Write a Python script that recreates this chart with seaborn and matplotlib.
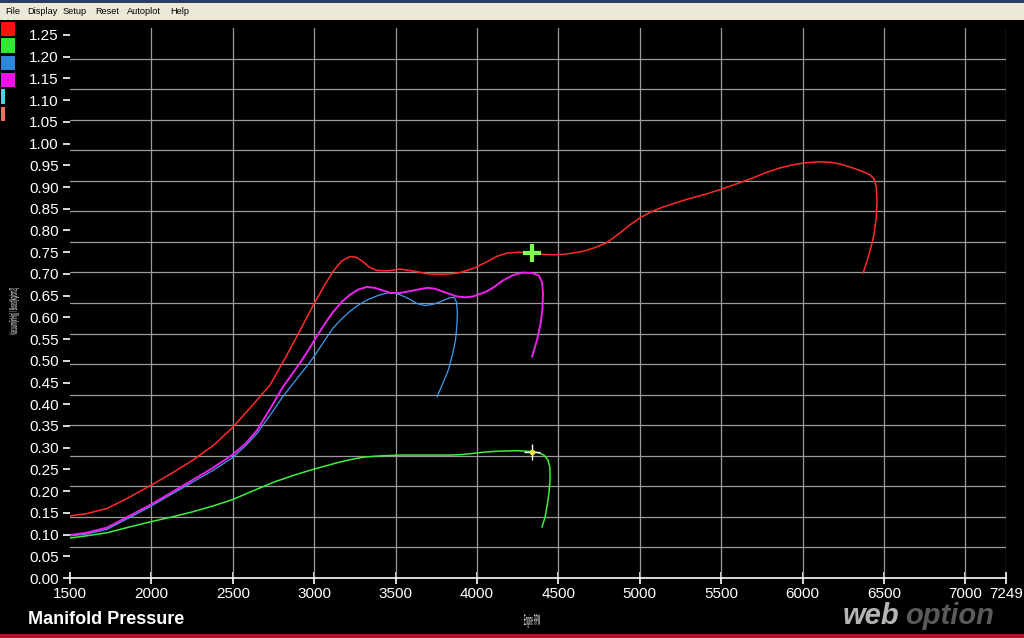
"""
Manifold pressure vs engine RPM - dyno log style chart
"""
import numpy as np
import pandas as pd
import matplotlib
matplotlib.use('Agg')
import matplotlib.pyplot as plt
import seaborn as sns
from matplotlib.patches import Rectangle, PathPatch
from matplotlib.textpath import TextPath
from matplotlib.font_manager import FontProperties
from matplotlib.transforms import Affine2D

# Data (rpm, kg/cm2)
red_rpm = [1500, 1600, 1727, 1850, 1991, 2120, 2250, 2380, 2495, 2610, 2728, 2820, 2913,
           2990, 3060, 3120, 3170, 3220, 3260, 3300, 3340, 3386, 3450, 3527, 3600, 3700,
           3773, 3840, 3896, 3980, 4061, 4120, 4184, 4260, 4338, 4400, 4467, 4530, 4590,
           4650, 4720, 4798, 4880, 4940, 5001, 5070, 5143, 5300, 5400, 5493, 5600, 5695,
           5780, 5861, 5940, 6020, 6107, 6170, 6230, 6290, 6360, 6414, 6440, 6452, 6457,
           6452, 6440, 6426, 6400, 6371]
red_val = [0.143, 0.148, 0.160, 0.183, 0.212, 0.240, 0.270, 0.305, 0.345, 0.393, 0.444, 0.505,
           0.570, 0.625, 0.672, 0.708, 0.730, 0.740, 0.738, 0.728, 0.715, 0.708, 0.707, 0.711,
           0.707, 0.700, 0.699, 0.700, 0.703, 0.713, 0.728, 0.740, 0.748, 0.750, 0.748, 0.745,
           0.744, 0.745, 0.748, 0.752, 0.760, 0.772, 0.795, 0.813, 0.829, 0.843, 0.854, 0.873,
           0.883, 0.894, 0.908, 0.921, 0.934, 0.944, 0.951, 0.956, 0.958, 0.957, 0.953, 0.946,
           0.937, 0.928, 0.918, 0.900, 0.870, 0.830, 0.795, 0.770, 0.735, 0.702]

green_rpm = [1500, 1600, 1727, 1850, 1991, 2120, 2250, 2380, 2495, 2620, 2747, 2870, 2993,
             3080, 3158, 3230, 3300, 3400, 3527, 3700, 3834, 3900, 3957, 4050, 4141, 4250,
             4338, 4380, 4410, 4435, 4447, 4449, 4443, 4432, 4418, 4399]
green_val = [0.092, 0.097, 0.104, 0.116, 0.129, 0.140, 0.152, 0.166, 0.180, 0.200, 0.220,
             0.236, 0.250, 0.259, 0.267, 0.273, 0.278, 0.281, 0.283, 0.283, 0.283, 0.284,
             0.286, 0.290, 0.292, 0.293, 0.291, 0.288, 0.283, 0.272, 0.255, 0.230, 0.200,
             0.170, 0.140, 0.117]

blue_rpm = [1500, 1600, 1727, 1850, 1991, 2120, 2250, 2380, 2495, 2580, 2649, 2730, 2808,
            2913, 2970, 3017, 3070, 3115, 3170, 3220, 3270, 3324, 3390, 3447, 3490, 3527,
            3580, 3630, 3680, 3730, 3780, 3834, 3860, 3874, 3879, 3877, 3868, 3850, 3825,
            3790, 3754]
blue_val = [0.097, 0.101, 0.112, 0.136, 0.164, 0.192, 0.220, 0.248, 0.276, 0.305, 0.333,
            0.375, 0.418, 0.468, 0.495, 0.520, 0.550, 0.575, 0.597, 0.614, 0.628, 0.640,
            0.650, 0.656, 0.656, 0.652, 0.643, 0.632, 0.627, 0.630, 0.637, 0.645, 0.646,
            0.635, 0.610, 0.585, 0.548, 0.515, 0.480, 0.448, 0.417]

magenta_rpm = [1500, 1600, 1727, 1850, 1991, 2120, 2250, 2380, 2495, 2580, 2649, 2730, 2808,
               2913, 2970, 3017, 3070, 3115, 3170, 3220, 3270, 3324, 3370, 3420, 3470, 3527,
               3610, 3693, 3740, 3800, 3877, 3930, 3975, 4050, 4098, 4160, 4221, 4280, 4340,
               4380, 4400, 4405, 4402, 4390, 4370, 4338]
magenta_val = [0.099, 0.104, 0.116, 0.140, 0.168, 0.196, 0.225, 0.254, 0.283, 0.310, 0.340,
               0.390, 0.440, 0.495, 0.528, 0.557, 0.588, 0.612, 0.636, 0.652, 0.664, 0.670,
               0.668, 0.662, 0.656, 0.656, 0.662, 0.668, 0.666, 0.658, 0.648, 0.646, 0.648,
               0.658, 0.668, 0.685, 0.697, 0.703, 0.702, 0.696, 0.680, 0.655, 0.620, 0.585,
               0.550, 0.509]

cursor_rpm = 4335
cursor_red = 0.748
cursor_green = 0.291

x_ticks = [1500, 2000, 2500, 3000, 3500, 4000, 4500, 5000, 5500, 6000, 6500, 7000, 7249]
y_ticks = np.round(np.arange(0, 1.2501, 0.05), 2)
menu_items = ['File', 'Display', 'Setup', 'Reset', 'Autoplot', 'Help']

series = [
    ('red', red_rpm, red_val, '#ff2b2b', 1.1),
    ('green', green_rpm, green_val, '#3cf03c', 1.1),
    ('blue', blue_rpm, blue_val, '#3e9cf0', 0.9),
    ('magenta', magenta_rpm, magenta_val, '#ee22ee', 1.4),
]

W, H = 1024, 638
sns.set_theme(style='dark', rc={'axes.facecolor': 'black', 'figure.facecolor': 'black'})
plt.rcParams['font.family'] = ['Liberation Sans', 'DejaVu Sans']

fig = plt.figure(figsize=(W / 100, H / 100), dpi=100)
ax = fig.add_axes([70 / W, 1 - 578 / H, (1006 - 70) / W, (578 - 28) / H])

y_top = 1.266
ax.set_xlim(1500, 7249)
ax.set_ylim(0, y_top)

# grid: vertical every 500 rpm, horizontal in 18 even divisions (not on ticks)
for xv in x_ticks[1:]:
    ax.axvline(xv, color='#9a9a9a', lw=0.9, zorder=1)
for yv in np.linspace(0, y_top, 19)[1:-1]:
    ax.axhline(yv, color='#9a9a9a', lw=0.9, zorder=1)

for name, xs, ys, col, lw in series:
    df = pd.DataFrame({'rpm': xs, 'val': ys})
    sns.lineplot(data=df, x='rpm', y='val', sort=False, estimator=None,
                 color=col, lw=lw, ax=ax, zorder=3, solid_joinstyle='round')

# cursors
ax.plot([cursor_rpm], [cursor_red], marker='+', ms=13, mew=3, color='#7cff4a', zorder=5)
ax.plot([cursor_rpm], [cursor_green], marker='+', ms=11, mew=1, color='white', zorder=5)
ax.plot([cursor_rpm], [cursor_green], marker='o', ms=3, color='#e8e840', zorder=6)

for s in ['left', 'right', 'top']:
    ax.spines[s].set_visible(False)
ax.spines['bottom'].set_color('white')
ax.spines['bottom'].set_linewidth(1.2)

ax.set_xticks(x_ticks)
ax.set_xticklabels([str(t) for t in x_ticks])
ax.set_yticks(y_ticks)
ax.set_yticklabels([f'{t:.2f}' for t in y_ticks])
ax.tick_params(axis='x', colors='white', labelsize=11, direction='inout', length=9,
               width=1.2, pad=2, bottom=True)
ax.tick_params(axis='y', colors='white', labelsize=11, direction='out', length=5,
               width=1.2, pad=3, left=True)
ax.set_xlabel('')
ax.set_ylabel('')
ax.grid(False)


def squashed_text(s, x, y, w, h, rot=0, color='white', weight='normal'):
    """Texte compressé placé en pixels (origine en haut à gauche)"""
    tp = TextPath((0, 0), s, size=10, prop=FontProperties(family='Liberation Sans', weight=weight))
    bb = tp.get_extents()
    tr = (Affine2D().translate(-bb.x0, -bb.y0).scale(w / bb.width, h / bb.height)
          .rotate_deg(rot).translate(x, H - y)
          + Affine2D().scale(1 / W, 1 / H) + fig.transFigure)
    fig.patches.append(PathPatch(tp, transform=tr, facecolor=color, edgecolor='none'))


# window chrome
fig.patches.append(Rectangle((0, 1 - 3 / H), 1, 3 / H, transform=fig.transFigure,
                             facecolor='#2c3d66', edgecolor='none'))
fig.patches.append(Rectangle((0, 1 - 20 / H), 1, 17 / H, transform=fig.transFigure,
                             facecolor='#ece9d8', edgecolor='none'))
fig.patches.append(Rectangle((0, 0), 1, 4 / H, transform=fig.transFigure,
                             facecolor='#b3132a', edgecolor='none'))
menu_x = [5, 27, 63, 95, 127, 170]
for mx, item in zip(menu_x, menu_items):
    fig.text(mx / W, 1 - 11 / H, item, color='black', fontsize=6.6, va='center', ha='left')

# colour swatches on the left
swatches = [(1, 22, 14, 14, '#ff1010'), (1, 38, 14, 15, '#33e833'), (1, 56, 14, 14, '#2d86d8'),
            (1, 73, 14, 14, '#ee10ee'), (1, 89, 4, 15, '#40d8e8'), (1, 107, 4, 14, '#f07060')]
for sx, sy, sw, sh, sc in swatches:
    fig.patches.append(Rectangle((sx / W, 1 - (sy + sh) / H), sw / W, sh / H,
                                 transform=fig.transFigure, facecolor=sc, edgecolor='none'))

squashed_text('Vacuum[inHg] / Boost[kg/cm2]', 19, 335, 47, 10, rot=90)
squashed_text('Engine RPM', 524, 628, 16, 14)

fig.text(28 / W, 1 - 620 / H, 'Manifold Pressure', color='white', fontsize=13,
         fontweight='bold', va='center', ha='left')

# watermark
fig.text(843 / W, 1 - 616 / H, 'web', color='#b4b4b4', fontsize=21, fontweight='heavy',
         fontstyle='italic', va='center', ha='left')
fig.text(905 / W, 1 - 616 / H, 'option', color='#5a5a5a', fontsize=21, fontweight='heavy',
         fontstyle='italic', va='center', ha='left')

plt.savefig('out.png', dpi=100, facecolor='black')
plt.close()
